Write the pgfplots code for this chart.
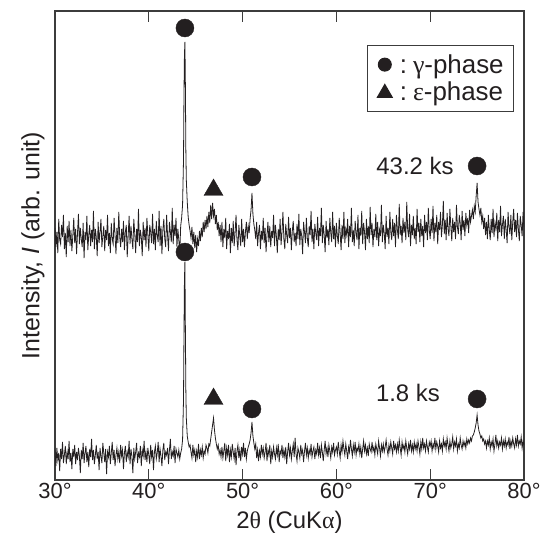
\documentclass[border=0pt]{standalone}
\usepackage{fontspec}
\setmainfont{Liberation Sans}
\newfontfamily\grk{Liberation Serif}
\usepackage{pgfplots}
\pgfplotsset{compat=1.18}
\usepackage{pgfplotstable}
\definecolor{ink}{RGB}{35,31,32}
\definecolor{frame}{RGB}{60,60,60}
\pgfplotstableread{
x top bot
30.0 252 30
30.1 233 14
30.2 248 32
30.3 227 20
30.4 261 27
30.5 240 9
30.6 236 31
30.7 255 21
30.8 243 38
30.9 265 17
31.0 231 25
31.1 247 34
31.2 223 16
31.3 254 28
31.4 238 21
31.5 259 39
31.6 234 18
31.7 250 27
31.8 229 11
31.9 244 31
32.0 262 23
32.1 237 35
32.2 251 16
32.3 226 28
32.4 247 20
32.5 266 32
32.6 236 24
32.7 252 7
32.8 241 30
32.9 233 21
33.0 257 37
33.1 222 17
33.2 248 27
33.3 240 34
33.4 264 18
33.5 230 28
33.6 245 13
33.7 255 31
33.8 234 23
33.9 250 41
34.0 238 20
34.1 269 30
34.2 231 16
34.3 251 25
34.4 243 35
34.5 224 21
34.6 258 28
34.7 237 10
34.8 248 32
34.9 261 24
35.0 233 17
35.1 244 37
35.2 254 27
35.3 229 18
35.4 250 31
35.5 240 6
35.6 265 28
35.7 234 23
35.8 247 34
35.9 227 16
36.0 257 27
36.1 241 38
36.2 236 20
36.3 262 30
36.4 245 14
36.5 226 25
36.6 252 32
36.7 237 21
36.8 268 28
36.9 243 17
37.0 233 35
37.1 251 24
37.2 238 30
37.3 259 11
37.4 230 27
37.5 248 34
37.6 255 18
37.7 223 28
37.8 244 23
37.9 264 39
38.0 236 16
38.1 254 31
38.2 241 24
38.3 231 7
38.4 261 32
38.5 247 21
38.6 227 28
38.7 251 37
38.8 238 17
38.9 271 27
39.0 234 23
39.1 250 34
39.2 243 14
39.3 224 30
39.4 258 24
39.5 240 39
39.6 252 20
39.7 233 28
39.8 262 18
39.9 245 32
40.0 229 25
40.1 255 16
40.2 248 35
40.3 237 23
40.4 266 30
40.5 236 10
40.6 251 28
40.7 230 34
40.8 259 21
40.9 244 27
41.0 238 38
41.1 269 18
41.2 234 31
41.3 254 24
41.4 226 14
41.5 250 30
41.6 261 37
41.7 241 20
41.8 233 28
41.9 265 25
42.0 245 32
42.1 229 16
42.2 258 30
42.3 248 41
42.4 238 21
42.5 272 28
42.6 236 24
42.7 255 34
42.8 244 17
42.9 262 31
43.0 233 27
43.1 251 23
43.2 240 30
43.3 227 21
43.4 254 27
43.5 262 31
43.6 275 40
43.7 320 80
43.75 385 145
43.8 425 200
43.85 438 218
43.9 395 150
43.95 330 90
44.0 300 62
44.1 278 44
44.2 263 38
44.3 255 33
44.4 249 35
44.5 242 28
44.6 253 22
44.7 236 35
44.8 248 25
44.9 232 30
45.0 245 18
45.1 228 29
45.2 241 23
45.3 234 36
45.4 249 21
45.5 239 30
45.6 252 25
45.7 243 33
45.8 258 22
45.9 248 29
46.0 260 26
46.1 251 35
46.2 264 32
46.3 253 27
46.4 268 36
46.5 257 34
46.6 275 41
46.7 261 48
46.8 277 55
46.9 264 62
47.0 271 50
47.1 256 42
47.2 265 36
47.3 250 31
47.4 258 35
47.5 244 26
47.6 255 30
47.7 238 23
47.8 258 33
47.9 233 22
48.0 251 29
48.1 242 37
48.2 262 19
48.3 231 32
48.4 249 25
48.5 241 35
48.6 256 18
48.7 227 30
48.8 252 23
48.9 237 36
49.0 259 28
49.1 234 21
49.2 247 32
49.3 265 15
49.4 240 29
49.5 230 35
49.6 255 22
49.7 244 30
49.8 234 19
49.9 261 33
50.0 238 26
50.1 251 37
50.2 233 23
50.3 248 32
50.4 258 21
50.5 241 29
50.6 254 33
50.7 247 36
50.8 261 40
50.9 270 47
51.0 287 58
51.1 266 44
51.2 256 37
51.3 250 31
51.4 241 36
51.5 258 22
51.6 234 30
51.7 247 19
51.8 255 29
51.9 231 23
52.0 249 35
52.1 240 26
52.2 262 32
52.3 237 22
52.4 252 28
52.5 228 37
52.6 245 19
52.7 258 30
52.8 238 25
52.9 254 35
53.0 233 16
53.1 249 29
53.2 242 23
53.3 265 33
53.4 234 26
53.5 255 21
53.6 244 32
53.7 227 25
53.8 251 36
53.9 240 18
54.0 261 29
54.1 235 26
54.2 248 35
54.3 268 22
54.4 241 30
54.5 231 23
54.6 256 33
54.7 245 16
54.8 237 28
54.9 263 37
55.0 242 25
55.1 252 32
55.2 230 21
55.3 249 29
55.4 259 36
55.5 238 23
55.6 247 42
55.7 234 26
55.8 256 19
55.9 241 32
56.0 266 28
56.1 235 22
56.2 251 35
56.3 244 26
56.4 226 30
56.5 258 18
56.6 248 29
56.7 237 37
56.8 262 25
56.9 242 32
57.0 233 22
57.1 254 30
57.2 245 26
57.3 269 36
57.4 238 23
57.5 251 29
57.6 231 33
57.7 256 21
57.8 247 30
57.9 240 26
58.0 263 37
58.1 234 25
58.2 252 32
58.3 244 22
58.4 272 35
58.5 237 28
58.6 255 19
58.7 245 30
58.8 228 39
58.9 259 26
59.0 242 32
59.1 251 23
59.2 235 35
59.3 262 29
59.4 247 22
59.5 238 33
59.6 268 28
59.7 241 37
59.8 254 25
59.9 233 30
60.0 257 33
60.1 244 26
60.2 236 38
60.3 262 29
60.4 247 22
60.5 230 35
60.6 255 28
60.7 241 39
60.8 268 31
60.9 237 25
61.0 251 36
61.1 245 29
61.2 261 21
61.3 233 33
61.4 254 28
61.5 243 40
61.6 272 31
61.7 238 24
61.8 250 35
61.9 234 28
62.0 259 38
62.1 247 25
62.2 240 32
62.3 265 29
62.4 231 36
62.5 252 26
62.6 244 33
62.7 269 22
62.8 236 31
62.9 257 39
63.0 248 29
63.1 230 35
63.2 261 26
63.3 241 32
63.4 254 24
63.5 237 36
63.6 273 31
63.7 245 28
63.8 257 38
63.9 233 29
64.0 251 33
64.1 243 25
64.2 266 36
64.3 240 31
64.4 258 26
64.5 234 39
64.6 250 32
64.7 244 24
64.8 275 35
64.9 238 29
65.0 255 36
65.1 247 28
65.2 231 33
65.3 264 40
65.4 243 31
65.5 252 25
65.6 236 35
65.7 268 29
65.8 248 38
65.9 240 32
66.0 261 26
66.1 244 39
66.2 257 31
66.3 233 35
66.4 265 28
66.5 250 36
66.6 241 29
66.7 276 40
66.8 245 32
66.9 254 25
67.0 237 38
67.1 262 31
67.2 247 35
67.3 258 28
67.4 240 39
67.5 278 32
67.6 250 26
67.7 243 36
67.8 266 31
67.9 234 40
68.0 255 29
68.1 245 35
68.2 264 28
68.3 241 38
68.4 252 31
68.5 236 36
68.6 271 29
68.7 248 39
68.8 257 33
68.9 238 26
69.0 261 38
69.1 244 31
69.2 254 42
69.3 233 32
69.4 265 36
69.5 247 29
69.6 258 39
69.7 240 33
69.8 272 28
69.9 250 38
70.0 241 34
70.1 261 39
70.2 247 29
70.3 274 36
70.4 239 32
70.5 257 42
70.6 248 31
70.7 265 38
70.8 236 34
70.9 258 28
71.0 250 39
71.1 268 32
71.2 243 36
71.3 255 29
71.4 279 41
71.5 246 34
71.6 260 38
71.7 240 31
71.8 267 42
71.9 251 35
72.0 244 29
72.1 271 39
72.2 254 32
72.3 239 36
72.4 262 43
72.5 248 31
72.6 258 38
72.7 241 34
72.8 275 41
72.9 253 29
73.0 246 36
73.1 265 32
73.2 257 42
73.3 240 35
73.4 269 31
73.5 250 39
73.6 260 34
73.7 244 38
73.8 267 32
73.9 255 41
74.0 262 36
74.1 247 40
74.2 270 37
74.3 258 42
74.4 264 39
74.5 270 44
74.6 261 45
74.7 274 48
74.8 268 52
74.9 284 57
75.0 297 65
75.1 278 55
75.2 271 49
75.3 265 46
75.4 272 42
75.5 258 44
75.6 264 39
75.7 251 41
75.8 262 36
75.9 245 39
76.0 258 32
76.1 241 39
76.2 265 35
76.3 250 42
76.4 240 31
76.5 261 38
76.6 247 34
76.7 271 41
76.8 243 29
76.9 257 36
77.0 251 45
77.1 267 34
77.2 239 39
77.3 260 32
77.4 248 38
77.5 274 35
77.6 244 42
77.7 255 31
77.8 264 39
77.9 241 34
78.0 261 41
78.1 250 32
78.2 237 38
78.3 268 35
78.4 253 43
78.5 246 31
78.6 265 39
78.7 240 34
78.8 258 42
78.9 271 36
79.0 248 32
79.1 260 41
79.2 243 35
79.3 267 45
79.4 251 34
79.5 239 39
79.6 264 36
79.7 255 43
79.8 244 32
79.9 268 39
80.0 253 35
}\xrd

\begin{document}
\begin{tikzpicture}
\begin{axis}[
  scale only axis, width=469bp, height=469bp,
  xmin=30, xmax=80, ymin=0, ymax=469,
  axis line style={frame, line width=1.4bp},
  xtick={30,40,50,60,70,80},
  xticklabels={30°,40°,50°,60°,70°,80°},
  ytick=\empty,
  tick align=inside,
  major tick length=11bp,
  tick style={frame, line width=1.4bp},
  ticklabel style={font=\fontsize{22}{26}\selectfont, text=ink},
  xlabel={2{\grk θ} (CuK{\grk α})},
  ylabel={Intensity, \textit{I} (arb. unit)},
  xlabel style={font=\fontsize{24}{28}\selectfont, text=ink, yshift=-5bp},
  every axis y label/.style={at={(axis description cs:-0.015,0.5)}, rotate=90, anchor=south,
     font=\fontsize{25}{29}\selectfont, text=ink},
  legend style={at={(0.979,0.9275)}, anchor=north east, draw=frame, line width=1bp,
     font=\fontsize{26}{30}\selectfont, text=ink, fill=white,
     inner xsep=9bp, inner ysep=8bp, row sep=5bp,
     nodes={inner sep=1bp},
     /tikz/every odd column/.append style={column sep=6bp}},
  legend cell align=left,
]
\addplot[ink, line width=0.8bp, forget plot] table[x=x,y=top]{\xrd};
\addplot[ink, line width=0.8bp, forget plot] table[x=x,y=bot]{\xrd};
\addplot[only marks, mark=*, mark size=9bp, color=ink, mark options={fill=ink, draw=ink},
  legend image code/.code={\fill[ink] (0bp,0bp) circle (6.5bp);}]
  coordinates {(43.85,452) (51.0,303) (75.0,314) (43.85,228) (51.0,71) (75.0,81)};
\addlegendentry{:\kern6bp{\grk γ}-phase}
\addplot[only marks, mark=triangle*, mark size=11bp, color=ink, mark options={fill=ink, draw=ink},
  legend image code/.code={\fill[ink] (-7.5bp,-5.5bp) -- (7.5bp,-5.5bp) -- (0bp,7.5bp) -- cycle;}]
  coordinates {(46.9,290) (46.9,81)};
\addlegendentry{:\kern6bp{\grk ε}-phase}
\node[anchor=east, font=\fontsize{24}{28}\selectfont, text=ink] at (axis cs:72.86,314) {43.2 ks};
\node[anchor=east, font=\fontsize{24}{28}\selectfont, text=ink] at (axis cs:71.4,87) {1.8 ks};
\end{axis}
\pgfresetboundingbox
\path[use as bounding box] (-55bp,-62bp) rectangle (497bp,480bp);
\end{tikzpicture}
\end{document}
